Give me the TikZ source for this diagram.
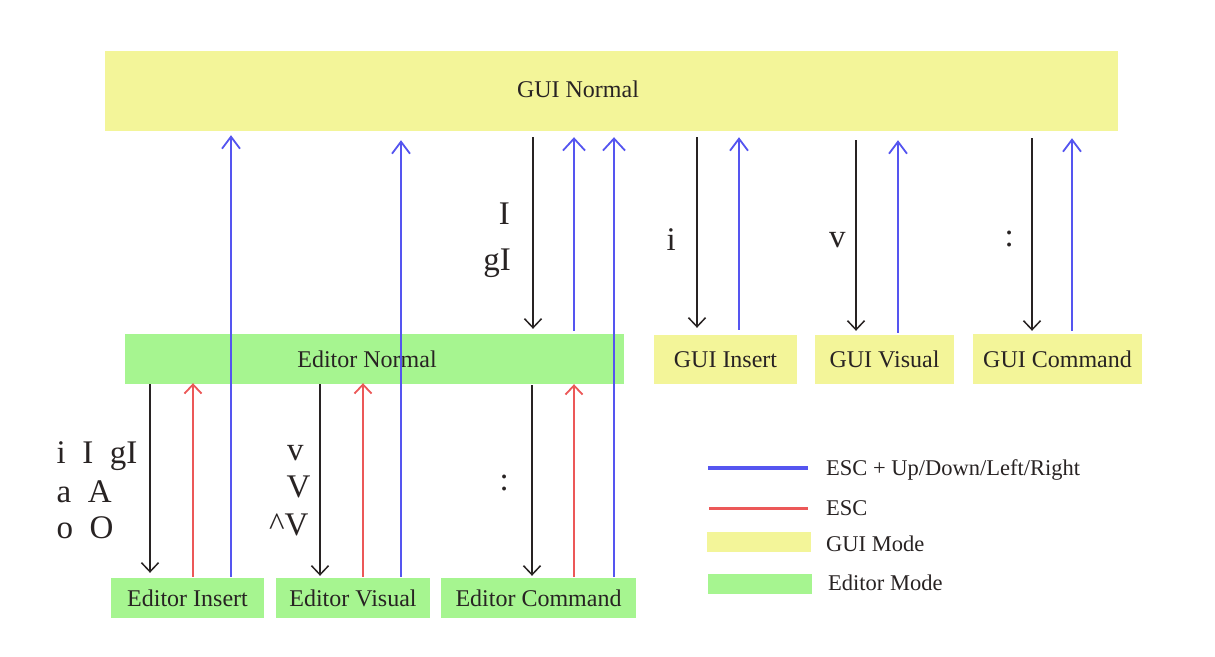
\documentclass[tikz,border=0pt]{standalone}
\usepackage{fontspec}
\setmainfont{Liberation Serif}
\usetikzlibrary{arrows.meta}
\definecolor{guiy}{RGB}{243,245,153}
\definecolor{edg}{RGB}{166,245,144}
\definecolor{escblue}{RGB}{85,85,240}
\definecolor{escred}{RGB}{236,88,88}
\definecolor{ink}{RGB}{40,35,35}
\tikzset{
  box/.style={fill=#1, draw=none, inner sep=0pt, text=ink, text height=16pt, text depth=0pt,
    font=\fontsize{24}{28}\selectfont},
  keylbl/.style={inner sep=0pt, text=ink, font=\fontsize{33}{38}\selectfont},
  legtxt/.style={inner sep=0pt, anchor=base west, text=ink, font=\fontsize{22.5}{26}\selectfont},
  blk/.style={draw=ink, line width=1.5pt, -{Straight Barb[length=9pt,width=17pt]}},
  blu/.style={draw=escblue, line width=1.8pt, -{Straight Barb[length=12pt,width=18pt]}},
  bigblu/.style={draw=escblue, line width=1.8pt, -{Straight Barb[length=12pt,width=22pt]}},
  rd/.style={draw=escred, line width=1.8pt, -{Straight Barb[length=9pt,width=17pt]}},
}
\begin{document}
\begin{tikzpicture}[x=1pt,y=-1pt]
\useasboundingbox (0,0) rectangle (1215,656);
\fill[white] (0,0) rectangle (1215,656);

% boxes
\node[box=guiy, minimum width=1013pt, minimum height=80pt] (gn) at (611.5,91) {};
\node[inner sep=0pt, text=ink, font=\fontsize{24}{28}\selectfont, text height=16pt, text depth=0pt] (gnt) at (578,89) {GUI Normal};
\node[box=edg, minimum width=499pt, minimum height=50pt] (en) at (374.5,359) {\hspace*{-15pt}Editor Normal};
\node[box=guiy, minimum width=143pt, minimum height=49pt] (gi) at (725.5,359.5) {GUI Insert};
\node[box=guiy, minimum width=139pt, minimum height=49pt] (gv) at (884.5,359.5) {GUI Visual};
\node[box=guiy, minimum width=169pt, minimum height=50pt] (gc) at (1057.5,359) {GUI Command};
\node[box=edg, minimum width=153pt, minimum height=40pt] (ei) at (187.5,598) {Editor Insert};
\node[box=edg, minimum width=154pt, minimum height=40pt] (ev) at (353,598) {Editor Visual};
\node[box=edg, minimum width=195pt, minimum height=40pt] (ec) at (538.5,598) {Editor Command};

% columns
\coordinate (cA) at (533,0);
\coordinate (cB) at (574,0);
\coordinate (cC) at (614,0);
\coordinate (cD) at (231,0);
\coordinate (cE) at (401,0);
\coordinate (cF) at (697,0);
\coordinate (cG) at (739,0);
\coordinate (cH) at (856,0);
\coordinate (cI) at (898,0);
\coordinate (cJ) at (1032,0);
\coordinate (cK) at (1072,0);
\coordinate (cL) at (150,0);
\coordinate (cM) at (193,0);
\coordinate (cN) at (320,0);
\coordinate (cO) at (363,0);
\coordinate (cP) at (532,0);
\coordinate (cQ) at (574,0);

% GUI Normal <-> Editor Normal
\draw[blk, shorten <=6pt, shorten >=5pt] (gn.south -| cA) -- (en.north -| cA);
\draw[bigblu, shorten <=3pt, shorten >=6pt] (en.north -| cB) -- (gn.south -| cB);
% Editor sub-modes back to GUI Normal
\draw[bigblu, shorten <=1pt, shorten >=6pt] (ec.north -| cC) -- (gn.south -| cC);
\draw[blu, shorten <=1pt, shorten >=4pt] (ei.north -| cD) -- (gn.south -| cD);
\draw[blu, shorten <=1pt, shorten >=9pt] (ev.north -| cE) -- (gn.south -| cE);
% GUI Normal <-> GUI sub-modes
\draw[blk, shorten <=6pt, shorten >=7pt] (gn.south -| cF) -- (gi.north -| cF);
\draw[blu, shorten <=5pt, shorten >=6pt] (gi.north -| cG) -- (gn.south -| cG);
\draw[blk, shorten <=9pt, shorten >=4pt] (gn.south -| cH) -- (gv.north -| cH);
\draw[blu, shorten <=2pt, shorten >=9pt] (gv.north -| cI) -- (gn.south -| cI);
\draw[blk, shorten <=7pt, shorten >=3pt] (gn.south -| cJ) -- (gc.north -| cJ);
\draw[blu, shorten <=3pt, shorten >=7pt] (gc.north -| cK) -- (gn.south -| cK);
% Editor Normal <-> Editor sub-modes
\draw[blk, shorten <=0pt, shorten >=5pt] (en.south -| cL) -- (ei.north -| cL);
\draw[rd, shorten <=1pt, shorten >=-1pt] (ei.north -| cM) -- (en.south -| cM);
\draw[blk, shorten <=0pt, shorten >=2pt] (en.south -| cN) -- (ev.north -| cN);
\draw[rd, shorten <=1pt, shorten >=-1pt] (ev.north -| cO) -- (en.south -| cO);
\draw[blk, shorten <=1pt, shorten >=2pt] (en.south -| cP) -- (ec.north -| cP);
\draw[rd, shorten <=1pt, shorten >=0pt] (ec.north -| cQ) -- (en.south -| cQ);

% key labels
\node[keylbl, anchor=base east] (lI) at (510,224) {I};
\node[keylbl, anchor=base east] (lgI) at (511,270) {gI};
\node[keylbl, anchor=base west] (li) at (666.5,250) {i};
\node[keylbl, anchor=base west] (lv) at (829,247) {v};
\node[keylbl, anchor=base west] (lc) at (1004.5,246) {:};
\node[keylbl, anchor=base west] (l1) at (56.5,463) {i~~I~~gI};
\node[keylbl, anchor=base west] (l2) at (56.5,502) {a~~A};
\node[keylbl, anchor=base west] (l3) at (56.5,538) {o~~O};
\node[keylbl, anchor=base west] (lv1) at (287,460) {v};
\node[keylbl, anchor=base west] (lv2) at (286.5,497) {V};
\node[keylbl, anchor=base west] (lv3) at (269,535) {\textasciicircum V};
\node[keylbl, anchor=base west] (lc2) at (499.5,490) {:};

% legend
\coordinate (b1) at (708,468);
\coordinate (b2) at (808,468);
\draw[escblue, line width=3.5pt] (b1) -- (b2);
\coordinate (r1) at (709,508);
\coordinate (r2) at (808,508);
\draw[escred, line width=3pt] (r1) -- (r2);
\node[fill=guiy, inner sep=0pt, minimum width=104pt, minimum height=20pt] (ly) at (759,542) {};
\node[fill=edg, inner sep=0pt, minimum width=104pt, minimum height=20pt] (lg) at (760,584) {};
\node[legtxt] (t1) at (826,475) {ESC + Up/Down/Left/Right};
\node[legtxt] (t2) at (826,515) {ESC};
\node[legtxt] (t3) at (826,551) {GUI Mode};
\node[legtxt] (t4) at (828,590) {Editor Mode};
\end{tikzpicture}
\end{document}
